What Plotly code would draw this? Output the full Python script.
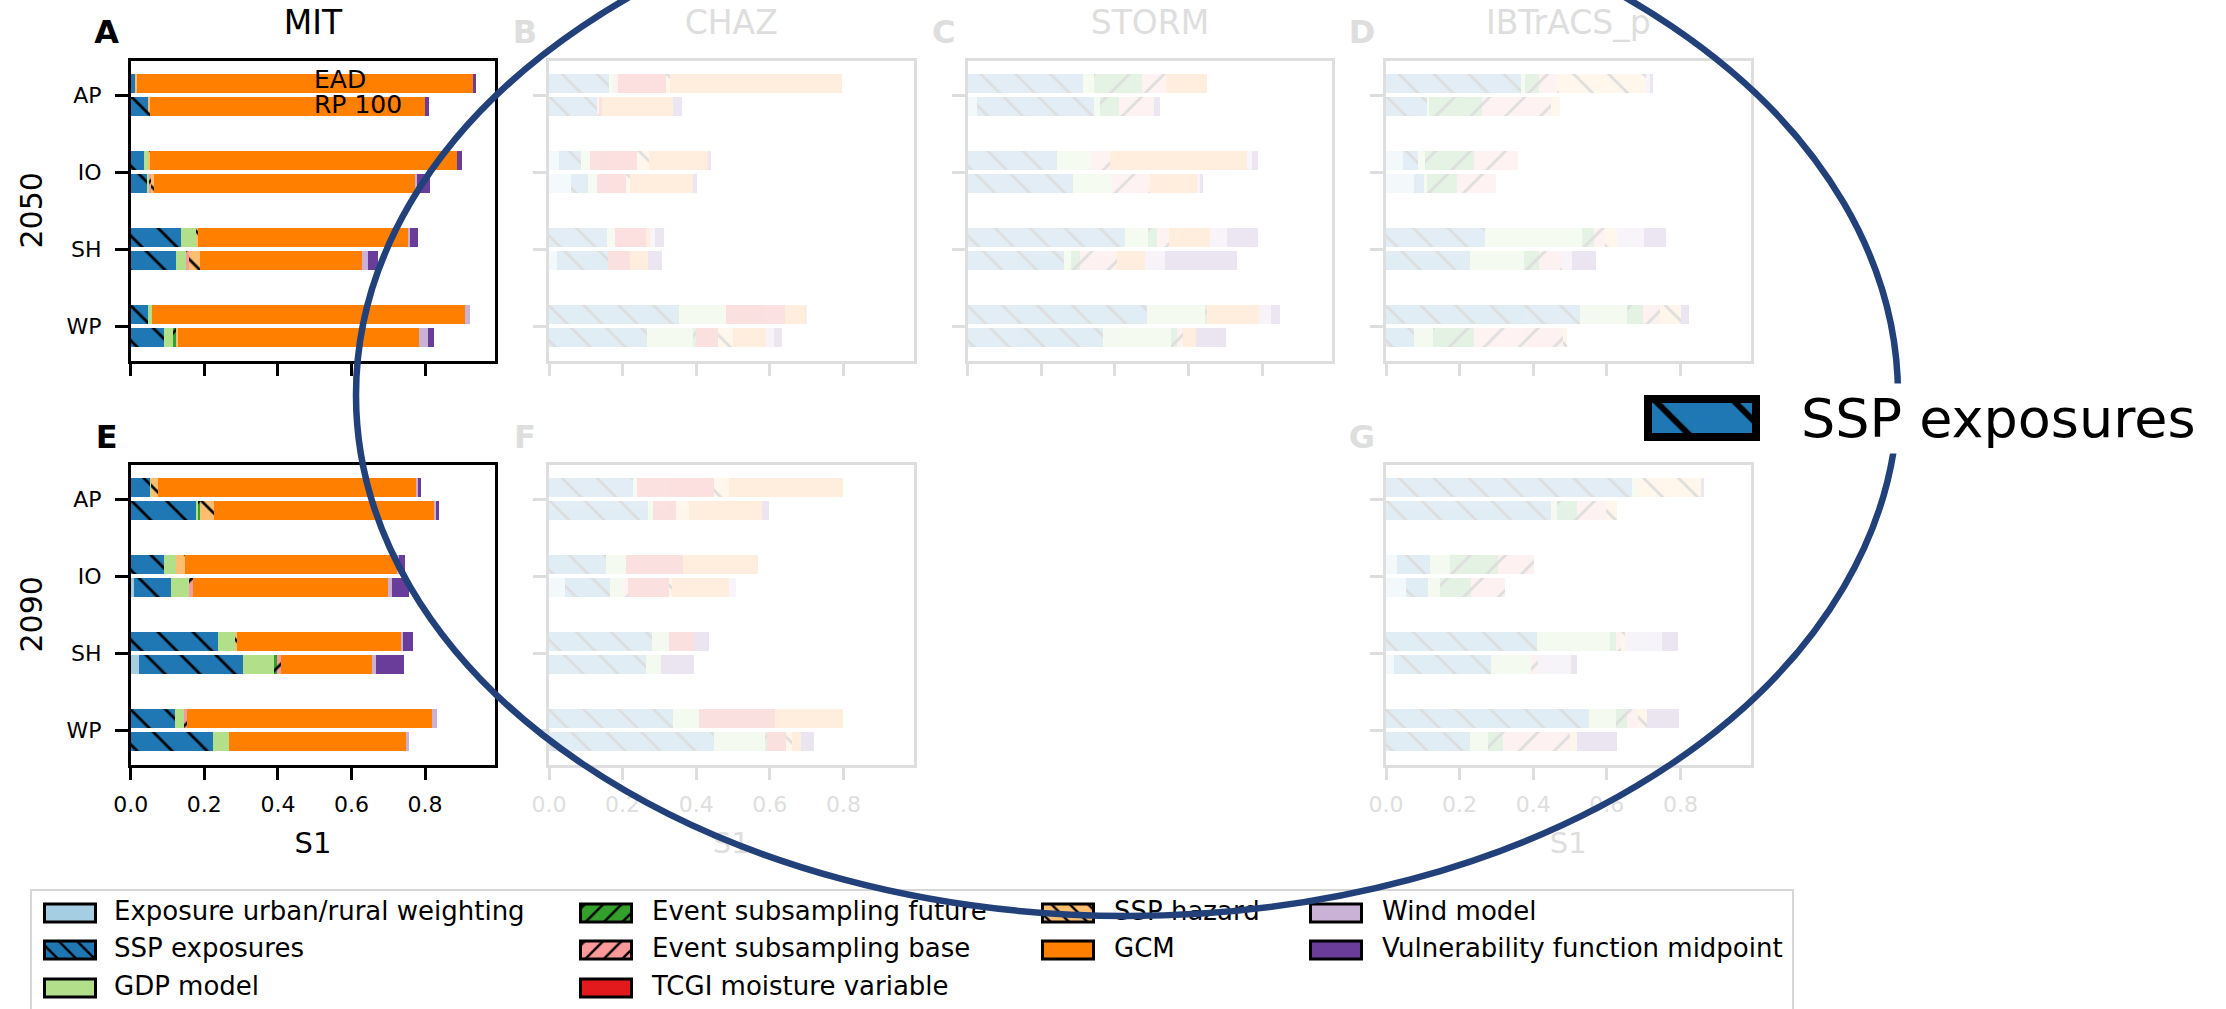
import plotly.graph_objects as go

W, H = 2226, 1009
FONT = "DejaVu Sans"
FADE = "#dedede"

REGIONS = ["AP", "IO", "SH", "WP"]
FACTORS = ["Exposure urban/rural weighting", "SSP exposures", "GDP model",
           "Event subsampling future", "Event subsampling base", "TCGI moisture variable",
           "SSP hazard", "GCM", "Wind model", "Vulnerability function midpoint"]
COLORS = ["#a6cee3", "#1f78b4", "#b2df8a", "#33a02c", "#fb9a99", "#e31a1c",
          "#fdbf6f", "#ff7f00", "#cab2d6", "#6a3d9a"]
HATCHES = ["", "\\", "", "/", "/", "", "\\", "", "", ""]
XTICKS = [0.0, 0.2, 0.4, 0.6, 0.8]
XTICK_LABELS = ["0.0", "0.2", "0.4", "0.6", "0.8"]

# First-order sensitivity indices S1: rows follow REGIONS, columns follow FACTORS
MIT_2050_EAD = [
    [0, 0.012, 0, 0, 0, 0, 0.006, 0.913, 0, 0.006],
    [0, 0.037, 0.009, 0, 0, 0, 0.006, 0.835, 0, 0.012],
    [0, 0.137, 0.041, 0, 0, 0, 0.005, 0.572, 0.004, 0.021],
    [0, 0.048, 0.010, 0, 0, 0, 0, 0.851, 0.013, 0],
]
MIT_2050_RP100 = [
    [0, 0.046, 0, 0, 0, 0, 0.006, 0.747, 0, 0.011],
    [0, 0.043, 0.006, 0, 0.007, 0, 0.006, 0.712, 0.005, 0.034],
    [0, 0.123, 0.027, 0, 0.008, 0, 0.030, 0.440, 0.018, 0.025],
    [0, 0.090, 0.024, 0.010, 0, 0, 0.004, 0.655, 0.024, 0.017],
]
CHAZ_2050_EAD = [
    [0, 0.163, 0.010, 0, 0.014, 0.131, 0.011, 0.466, 0, 0],
    [0.026, 0.061, 0.024, 0, 0, 0.129, 0.032, 0.161, 0, 0.008],
    [0, 0.157, 0.021, 0, 0, 0.086, 0, 0.011, 0.013, 0.024],
    [0, 0.352, 0.128, 0, 0, 0.161, 0, 0.057, 0.004, 0],
]
CHAZ_2050_RP100 = [
    [0, 0.130, 0, 0, 0.007, 0.007, 0, 0.193, 0, 0.024],
    [0.060, 0.047, 0.023, 0, 0, 0.080, 0.011, 0.169, 0, 0.012],
    [0.021, 0.139, 0, 0, 0, 0.061, 0, 0.048, 0, 0.037],
    [0, 0.265, 0.127, 0.007, 0, 0.059, 0.041, 0.091, 0.021, 0.022],
]
STORM_2050_EAD = [
    [0, 0.314, 0.028, 0.131, 0.065, 0, 0, 0.111, 0, 0],
    [0, 0.243, 0.091, 0, 0.054, 0, 0, 0.370, 0.014, 0.016],
    [0, 0.428, 0.061, 0.026, 0.033, 0, 0, 0.110, 0.047, 0.083],
    [0, 0.486, 0.160, 0.005, 0, 0, 0, 0.140, 0.032, 0.025],
]
STORM_2050_RP100 = [
    [0.026, 0.317, 0.017, 0.051, 0.095, 0, 0, 0, 0, 0.016],
    [0, 0.287, 0.105, 0, 0.103, 0, 0, 0.127, 0.009, 0.009],
    [0, 0.262, 0.018, 0.025, 0.100, 0, 0, 0.078, 0.053, 0.195],
    [0, 0.368, 0.184, 0.018, 0.015, 0, 0, 0.036, 0, 0.080],
]
IBTRACS_2050_EAD = [
    [0, 0.368, 0.010, 0.038, 0.048, 0, 0.243, 0, 0.011, 0.007],
    [0.047, 0.039, 0.020, 0.134, 0.120, 0, 0, 0, 0, 0],
    [0, 0.269, 0.264, 0.031, 0.032, 0, 0.032, 0, 0.074, 0.058],
    [0, 0.526, 0.129, 0.042, 0.048, 0, 0.057, 0, 0, 0.022],
]
IBTRACS_2050_RP100 = [
    [0, 0.111, 0.007, 0.144, 0.187, 0, 0.023, 0, 0, 0],
    [0.076, 0.028, 0.008, 0.082, 0.106, 0, 0, 0, 0, 0],
    [0, 0.229, 0.146, 0.041, 0.063, 0, 0, 0, 0.027, 0.065],
    [0, 0.075, 0.053, 0.111, 0.241, 0, 0.013, 0, 0, 0],
]
MIT_2090_EAD = [
    [0, 0.053, 0.002, 0, 0, 0, 0.019, 0.703, 0.004, 0.008],
    [0, 0.091, 0.031, 0, 0, 0, 0.025, 0.576, 0.006, 0.017],
    [0, 0.238, 0.046, 0, 0, 0, 0.004, 0.447, 0.004, 0.029],
    [0, 0.121, 0.024, 0, 0.007, 0, 0, 0.667, 0.013, 0],
]
MIT_2090_RP100 = [
    [0, 0.179, 0.005, 0.005, 0, 0, 0.036, 0.599, 0.005, 0.010],
    [0.009, 0.101, 0.049, 0, 0.011, 0, 0, 0.528, 0.013, 0.046],
    [0.023, 0.281, 0.086, 0.007, 0.012, 0, 0, 0.247, 0.011, 0.076],
    [0, 0.223, 0.045, 0, 0, 0, 0, 0.480, 0.009, 0],
]
CHAZ_2090_EAD = [
    [0, 0.227, 0.011, 0, 0, 0.210, 0.041, 0.311, 0, 0],
    [0, 0.155, 0.053, 0, 0, 0.157, 0, 0.204, 0, 0],
    [0, 0.280, 0.046, 0, 0, 0.068, 0, 0, 0, 0.042],
    [0, 0.337, 0.071, 0, 0, 0.207, 0, 0.184, 0, 0],
]
CHAZ_2090_RP100 = [
    [0, 0.269, 0.014, 0, 0, 0.062, 0.036, 0.197, 0, 0.019],
    [0.044, 0.123, 0.034, 0, 0.015, 0.111, 0.007, 0.154, 0.021, 0],
    [0, 0.264, 0.039, 0, 0, 0, 0, 0, 0, 0.091],
    [0, 0.447, 0.140, 0.005, 0, 0.051, 0.016, 0.027, 0, 0.035],
]
IBTRACS_2090_EAD = [
    [0, 0.668, 0.014, 0, 0, 0, 0.174, 0, 0, 0.007],
    [0.029, 0.091, 0.054, 0.131, 0.097, 0, 0, 0, 0, 0],
    [0, 0.410, 0.200, 0.016, 0.012, 0, 0.012, 0, 0.100, 0.044],
    [0, 0.551, 0.073, 0.032, 0.030, 0, 0.023, 0, 0, 0.088],
]
IBTRACS_2090_RP100 = [
    [0, 0.448, 0.017, 0.054, 0.080, 0, 0.029, 0, 0, 0],
    [0.053, 0.060, 0.033, 0.085, 0.091, 0, 0, 0, 0, 0],
    [0.023, 0.262, 0.108, 0, 0.019, 0, 0, 0, 0.091, 0.016],
    [0, 0.229, 0.047, 0.043, 0.181, 0, 0.019, 0, 0, 0.110],
]

# (letter, title, EAD table, RP100 table, column, row, highlighted)
PANELS = [
    ("A", "MIT", MIT_2050_EAD, MIT_2050_RP100, 0, 0, True),
    ("B", "CHAZ", CHAZ_2050_EAD, CHAZ_2050_RP100, 1, 0, False),
    ("C", "STORM", STORM_2050_EAD, STORM_2050_RP100, 2, 0, False),
    ("D", "IBTrACS_p", IBTRACS_2050_EAD, IBTRACS_2050_RP100, 3, 0, False),
    ("E", None, MIT_2090_EAD, MIT_2090_RP100, 0, 1, True),
    ("F", None, CHAZ_2090_EAD, CHAZ_2090_RP100, 1, 1, False),
    ("G", None, IBTRACS_2090_EAD, IBTRACS_2090_RP100, 3, 1, False),
]
YEARS = ["2050", "2090"]

# page geometry in pixels
COL_X = [130.7, 549.0, 967.7, 1386.0]
ROW_Y = [61.0, 465.0]
PW, PH = 364.5, 300.0
X_PER_UNIT = 368.0
OFF_EAD, OFF_RP, BAR_W = -0.157, 0.143, 0.245


def dom_x(a, b):
    return [a / W, b / W]


def dom_y(top, bottom):
    return [1 - bottom / H, 1 - top / H]


fig = go.Figure()
layout = dict(
    width=W, height=H, margin=dict(l=0, r=0, t=0, b=0, pad=0),
    paper_bgcolor="white", plot_bgcolor="rgba(0,0,0,0)",
    barmode="stack", showlegend=False, font=dict(family=FONT),
)

for i, (letter, title, ead, rp, col, row, strong) in enumerate(PANELS, start=1):
    xa, ya = f"x{i}", f"y{i}"
    ink = "black" if strong else FADE
    x0, y0 = COL_X[col], ROW_Y[row]
    ys = []
    for r in range(len(REGIONS)):
        ys += [r + OFF_EAD, r + OFF_RP]
    for k, name in enumerate(FACTORS):
        xs = []
        for r in range(len(REGIONS)):
            xs += [ead[r][k], rp[r][k]]
        pattern = dict(shape=HATCHES[k], fgcolor="black", bgcolor=COLORS[k],
                       size=24.7, solidity=0.11, fillmode="replace")
        fig.add_trace(go.Bar(
            x=xs, y=ys, orientation="h", width=BAR_W, name=name,
            marker=dict(color=COLORS[k], line=dict(width=0), pattern=pattern),
            opacity=1.0 if strong else 0.13,
            xaxis=xa, yaxis=ya, showlegend=False, hoverinfo="skip",
        ))
    axis_common = dict(showline=True, mirror=True, linewidth=2.5, linecolor=ink,
                       ticks="outside", tickwidth=2.5, tickcolor=ink, showgrid=False,
                       zeroline=False, automargin=False, fixedrange=True,
                       tickfont=dict(family=FONT, size=22, color=ink))
    layout["xaxis" if i == 1 else f"xaxis{i}"] = dict(
        axis_common, domain=dom_x(x0, x0 + PW), anchor=ya,
        range=[0, PW / X_PER_UNIT], tickvals=XTICKS, ticktext=XTICK_LABELS,
        showticklabels=(row == 1), ticklen=12, ticklabelstandoff=6)
    layout["yaxis" if i == 1 else f"yaxis{i}"] = dict(
        axis_common, domain=dom_y(y0, y0 + PH), anchor=xa,
        range=[3.45, -0.45], tickvals=list(range(len(REGIONS))), ticktext=REGIONS,
        showticklabels=(col == 0), ticklen=13, ticklabelstandoff=9)

# full-page overlay axes in pixel units for labels, legend and highlight ring
layout["xaxis8"] = dict(domain=[0, 1], range=[0, W], visible=False, anchor="y8", fixedrange=True)
layout["yaxis8"] = dict(domain=[0, 1], range=[H, 0], visible=False, anchor="x8", fixedrange=True)

shapes = []


def text(x, y, s, size, color="black", bold=False, pos="middle center"):
    fig.add_trace(go.Scatter(
        x=[x], y=[y], text=[s], mode="text", textposition=pos,
        textfont=dict(family=FONT, size=size, color=color, weight="bold" if bold else "normal"),
        xaxis="x8", yaxis="y8", showlegend=False, hoverinfo="skip", cliponaxis=False))


def swatch(xa, xb, ya, yb, color, hatch, lw, hsize, solidity):
    kw = {}
    if hatch:
        kw["fillpattern"] = dict(shape=hatch, fgcolor="black", bgcolor=color,
                                 size=hsize, solidity=solidity, fillmode="replace")
    fig.add_trace(go.Scatter(
        x=[xa, xb, xb, xa, xa], y=[ya, ya, yb, yb, ya], mode="lines",
        fill="toself", fillcolor=color, line=dict(color=color, width=0),
        xaxis="x8", yaxis="y8", showlegend=False, hoverinfo="skip", **kw))
    shapes.append(dict(type="rect", xref="x8", yref="y8", x0=xa, x1=xb, y0=ya, y1=yb,
                       line=dict(color="black", width=lw), layer="above"))


# panel letters, titles and axis labels
for letter, title, ead, rp, col, row, strong in PANELS:
    ink = "black" if strong else FADE
    cx = COL_X[col] + PW / 2
    text(COL_X[col] - 24, 35 if row == 0 else 440, letter, 32, ink, bold=True)
    if title:
        text(cx, 26, title, 33, ink)
    if row == 1:
        text(cx, 846, "S1", 29, ink)

text(314, 82, "EAD", 25, pos="middle right")
text(314, 107, "RP 100", 25, pos="middle right")

annotations = []
for row, year in enumerate(YEARS):
    annotations.append(dict(x=30.5, y=ROW_Y[row] + PH / 2, xref="x8", yref="y8", text=year,
                            textangle=-90, showarrow=False, font=dict(family=FONT, size=30, color="black"),
                            xanchor="center", yanchor="middle"))

# legend frame and entries
fig.add_trace(go.Scatter(x=[31, 31, 1793, 1793], y=[1015, 890, 890, 1015], mode="lines",
                         line=dict(color="#d6d6d6", width=2), xaxis="x8", yaxis="y8",
                         showlegend=False, hoverinfo="skip"))
LEG_ICON_X = [43, 579, 1041, 1309]
LEG_TEXT_X = [114, 652, 1114, 1382]
LEG_ROW_Y = [913, 950, 988]
LEG_COL = [0, 0, 0, 1, 1, 1, 2, 2, 3, 3]
LEG_ROW = [0, 1, 2, 0, 1, 2, 0, 1, 0, 1]
for k, name in enumerate(FACTORS):
    c, r = LEG_COL[k], LEG_ROW[k]
    xa = LEG_ICON_X[c]
    yc = LEG_ROW_Y[r]
    swatch(xa + 1.5, xa + 52.5, yc - 9, yc + 9, COLORS[k], HATCHES[k], 3, 13, 0.19)
    text(LEG_TEXT_X[c], yc, name, 26, pos="middle right")

# enlarged key for the highlighted factor
swatch(1648, 1756, 399, 437, COLORS[1], HATCHES[1], 8, 55.44, 0.11)

# highlight ring
shapes.append(dict(type="circle", xref="x8", yref="y8", x0=356, x1=1898, y0=-126, y1=916,
                   line=dict(color="#22407a", width=6.5), layer="above"))

annotations.append(dict(x=1797, y=418, xref="x8", yref="y8", text="SSP exposures",
                        showarrow=False, xanchor="left", yanchor="middle", bgcolor="white",
                        borderpad=3, font=dict(family=FONT, size=54, color="black")))

layout["shapes"] = shapes
layout["annotations"] = annotations
fig.update_layout(**layout)
fig.write_html("out.html")
